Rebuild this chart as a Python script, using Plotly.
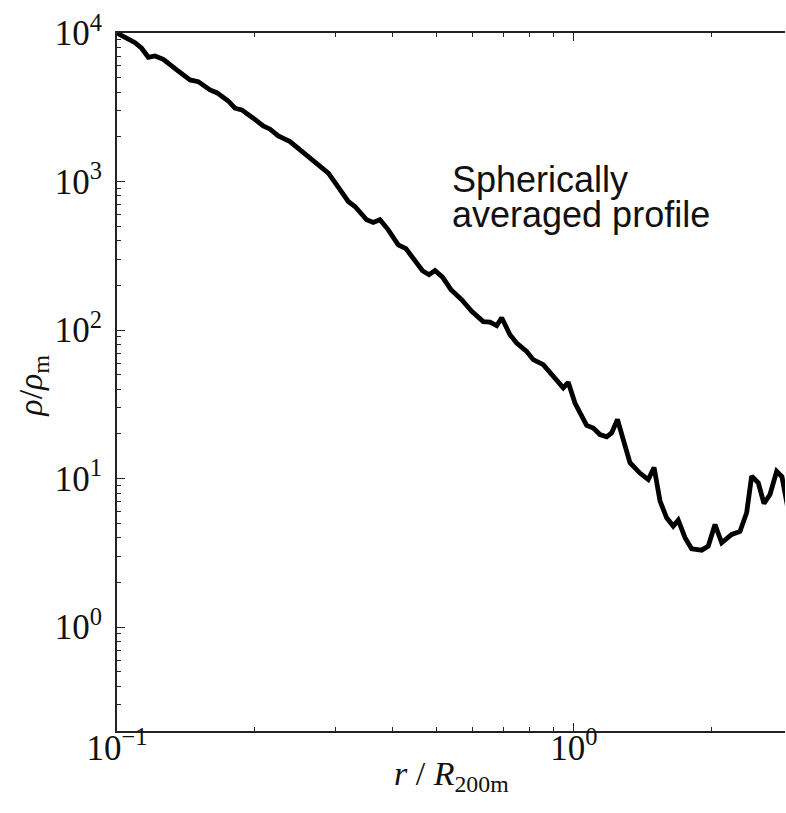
import math
import plotly.graph_objects as go

# r / R200m
r_vals = [0.1000, 0.1095, 0.1132, 0.1171, 0.1211, 0.1263, 0.1351, 0.1445, 0.1506, 0.1598,
          0.1653, 0.1752, 0.1812, 0.1875, 0.1987, 0.2089, 0.2163, 0.2254, 0.2391, 0.2514,
          0.2689, 0.2901, 0.3025, 0.3207, 0.3317, 0.3518, 0.3637, 0.3762, 0.3923, 0.4125,
          0.4289, 0.4489, 0.4662, 0.4817, 0.4964, 0.5156, 0.5381, 0.5679, 0.5973, 0.6331,
          0.6549, 0.6775, 0.6947, 0.7244, 0.7492, 0.7878, 0.8144, 0.8566, 0.9010, 0.9475,
          0.9716, 1.005, 1.066, 1.102, 1.140, 1.179, 1.209, 1.245, 1.282, 1.326,
          1.394, 1.454, 1.497, 1.543, 1.595, 1.649, 1.691, 1.750, 1.809, 1.903,
          1.967, 2.035, 2.105, 2.214, 2.308, 2.387, 2.448, 2.531, 2.605, 2.685,
          2.777, 2.852, 2.969]
# rho / rho_m
rho_vals = [10000, 8606, 7893, 6864, 7003, 6655, 5638, 4830, 4705, 4137,
            3967, 3488, 3116, 3035, 2670, 2369, 2251, 2029, 1858, 1634,
            1363, 1139, 950, 734, 679, 553, 530, 553, 473, 375,
            353, 290, 251, 236, 252, 227, 187, 160, 134, 114,
            113, 107, 121, 93.1, 81.9, 71.9, 63.2, 58.5, 48.8, 40.8,
            44.5, 32.3, 22.8, 21.9, 19.8, 19.1, 20.3, 25.0, 18.3, 12.8,
            10.9, 9.86, 11.9, 7.05, 5.45, 4.79, 5.25, 4.00, 3.37, 3.30,
            3.51, 4.91, 3.70, 4.21, 4.41, 5.89, 10.4, 9.37, 6.80, 7.82,
            11.2, 10.3, 5.31]

x_major = [0.1, 1]
x_major_text = ["10<sup>−1</sup>", "10<sup>0</sup>"]
x_minor = [0.2, 0.3, 0.4, 0.5, 0.6, 0.7, 0.8, 0.9, 2, 3]
y_major = [1, 10, 100, 1000, 10000]
y_major_text = ["10<sup>0</sup>", "10<sup>1</sup>", "10<sup>2</sup>", "10<sup>3</sup>", "10<sup>4</sup>"]
y_minor = [m * 10 ** k for k in range(-1, 4) for m in range(2, 10)]

x_range = [0.1, 2.896]
y_range = [0.2, 10000]

serif = "Liberation Serif, Times New Roman, serif"

fig = go.Figure()
fig.add_trace(go.Scatter(x=r_vals, y=rho_vals, mode="lines",
                         line=dict(color="black", width=4.8), showlegend=False))

fig.update_xaxes(type="log", range=[math.log10(v) for v in x_range],
                 showline=True, linecolor="#222", linewidth=2, mirror="ticks",
                 ticks="inside", ticklen=8, tickwidth=1, tickcolor="#222",
                 tickmode="array", tickvals=x_major, ticktext=x_major_text,
                 ticklabelstandoff=-15,
                 minor=dict(tickmode="array", tickvals=x_minor, ticks="inside",
                            ticklen=4, tickwidth=1, tickcolor="#222", showgrid=False),
                 showgrid=False, zeroline=False,
                 tickfont=dict(family=serif, size=35, color="#111"))
fig.update_yaxes(type="log", range=[math.log10(v) for v in y_range],
                 showline=True, linecolor="#222", linewidth=2, mirror=False,
                 ticks="inside", ticklen=8, tickwidth=1, tickcolor="#222",
                 tickmode="array", tickvals=y_major, ticktext=y_major_text,
                 ticklabelstandoff=6,
                 minor=dict(tickmode="array", tickvals=y_minor, ticks="inside",
                            ticklen=4, tickwidth=1, tickcolor="#222", showgrid=False),
                 showgrid=False, zeroline=False,
                 tickfont=dict(family=serif, size=35, color="#111"))

fig.add_annotation(text="<i>r</i> / <i>R</i><sub>200m</sub>", xref="paper", yref="paper",
                   x=0.5, y=-0.064, xanchor="center", yanchor="middle", showarrow=False,
                   font=dict(family=serif, size=34, color="#111"))
fig.add_annotation(text="<i>ρ</i>/<i>ρ</i><sub>m</sub>", xref="paper", yref="paper",
                   x=-0.125, y=0.494, xanchor="center", yanchor="middle", showarrow=False,
                   textangle=-90, font=dict(family=serif, size=34, color="#111"))

sans = "Liberation Sans, Arial, sans-serif"
fig.add_annotation(text="Spherically", xref="paper", yref="paper",
                   x=0.499, y=0.7895, xanchor="left", yanchor="middle", showarrow=False,
                   font=dict(family=sans, size=36, color="#111"))
fig.add_annotation(text="averaged profile", xref="paper", yref="paper",
                   x=0.499, y=0.7405, xanchor="left", yanchor="middle", showarrow=False,
                   font=dict(family=sans, size=36, color="#111"))

fig.update_layout(width=786, height=813, margin=dict(l=117, r=1, t=33, b=82),
                  paper_bgcolor="white", plot_bgcolor="white")
fig.write_html("out.html")
